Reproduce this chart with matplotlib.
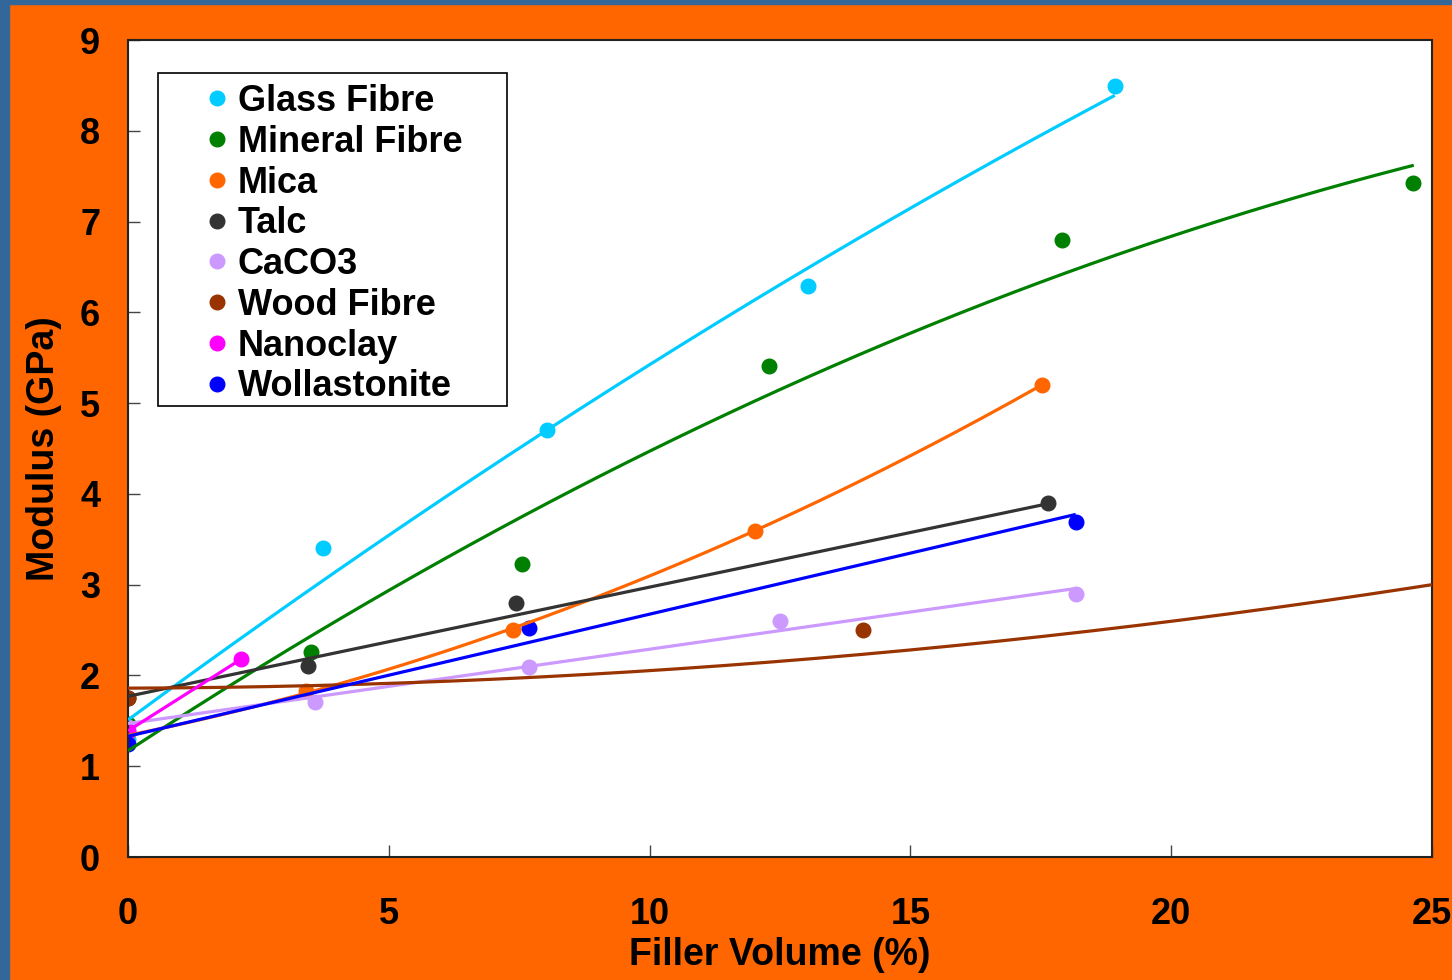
import numpy as np
import matplotlib
matplotlib.use('Agg')
import matplotlib.pyplot as plt
from matplotlib.patches import Rectangle

plt.rcParams['font.family'] = ['Liberation Sans', 'DejaVu Sans']
plt.rcParams['font.weight'] = 'bold'

# Measured modulus vs filler loading
names = ['Glass Fibre', 'Mineral Fibre', 'Mica', 'Talc', 'CaCO3',
         'Wood Fibre', 'Nanoclay', 'Wollastonite']
colors = ['#00CCFF', '#008000', '#FF6600', '#333333', '#CC99FF',
          '#993300', '#FF00FF', '#0000FF']

glass_x = [0, 3.74, 8.03, 13.04, 18.92]
glass_y = [1.30, 3.40, 4.70, 6.29, 8.49]
mineral_x = [0, 3.51, 7.55, 12.29, 17.91, 24.64]
mineral_y = [1.47, 2.26, 3.23, 5.41, 6.80, 7.42]
mica_x = [0, 3.41, 7.38, 12.02, 17.52]
mica_y = [1.38, 1.83, 2.50, 3.59, 5.20]
talc_x = [0, 3.45, 7.44, 17.64]
talc_y = [1.75, 2.10, 2.80, 3.90]
caco3_x = [0, 3.59, 7.69, 12.50, 18.17]
caco3_y = [1.43, 1.71, 2.09, 2.60, 2.90]
wood_x = [0, 14.09]
wood_y = [1.75, 2.50]
nano_x = [0, 2.17]
nano_y = [1.39, 2.18]
woll_x = [0, 7.69, 18.17]
woll_y = [1.25, 2.52, 3.69]

xs = [glass_x, mineral_x, mica_x, talc_x, caco3_x, wood_x, nano_x, woll_x]
ys = [glass_y, mineral_y, mica_y, talc_y, caco3_y, wood_y, nano_y, woll_y]

# Trendlines: y = c0 + c1*x + c2*x^2, drawn from 0 to trend_end
trend_coef = [
    (1.51, 0.4224, -0.003106),
    (1.17, 0.3767, -0.004667),
    (1.34, 0.1161, 0.00595),
    (1.77, 0.1203, 0.0),
    (1.47, 0.0819, 0.0),
    (1.86, 0.00175, 0.001754),
    (1.39, 0.364, 0.0),
    (1.33, 0.1345, 0.0),
]
trend_end = [18.92, 24.65, 17.52, 17.64, 18.17, 25.0, 2.17, 18.17]

fig = plt.figure(figsize=(14.52, 9.8), dpi=100, facecolor='#FF6600')
# blue edge strips
fig.patches.append(Rectangle((0, 0), 9 / 1452, 1, transform=fig.transFigure,
                             color='#336699', zorder=0))
fig.patches.append(Rectangle((0, 1 - 4 / 980), 1, 4 / 980, transform=fig.transFigure,
                             color='#336699', zorder=0))

ax = fig.add_axes([128 / 1452, 123 / 980, 1304 / 1452, 817 / 980])
ax.set_facecolor('white')

for x, y, c, name in zip(xs, ys, colors, names):
    ax.plot(x, y, 'o', color=c, markersize=10.5, label=name, zorder=2)

for (c0, c1, c2), xe, c in zip(trend_coef, trend_end, colors):
    t = np.linspace(0, xe, 200)
    ax.plot(t, c0 + c1 * t + c2 * t ** 2, color=c, lw=2.3, zorder=3,
            solid_capstyle='butt')

ax.set_xlim(0, 25)
ax.set_ylim(0, 9)
ax.set_xticks(range(0, 26, 5))
ax.set_yticks(range(0, 10))
ax.tick_params(axis='both', direction='in', length=8.5, width=1, color='#444444',
               labelsize=26)
ax.tick_params(axis='x', pad=28.5)
ax.tick_params(axis='y', pad=20)
for lab in ax.get_xticklabels() + ax.get_yticklabels():
    lab.set_fontweight('bold')
for s in ax.spines.values():
    s.set_linewidth(1.5)
    s.set_color('#222222')

ax.set_xlabel('Filler Volume (%)', fontsize=27, fontweight='bold')
ax.set_ylabel('Modulus (GPa)', fontsize=27, fontweight='bold')
ax.xaxis.set_label_coords(0.5, -0.0985)
ax.yaxis.set_label_coords(-0.0505, 0.5)

# legend box drawn separately, legend entries inside it
ax.add_patch(Rectangle((30 / 1304, 451 / 817), 349 / 1304, 333 / 817,
                       transform=ax.transAxes, facecolor='white',
                       edgecolor='black', lw=1.2, zorder=4))
leg = ax.legend(loc='upper left', bbox_to_anchor=(78 / 1304, 773 / 817),
                frameon=False, borderpad=0, borderaxespad=0,
                handlelength=0.6, handletextpad=0.28, labelspacing=0.16,
                prop={'size': 26, 'weight': 'bold'})
leg.set_zorder(5)

fig.savefig('out.png', dpi=100, facecolor=fig.get_facecolor())
